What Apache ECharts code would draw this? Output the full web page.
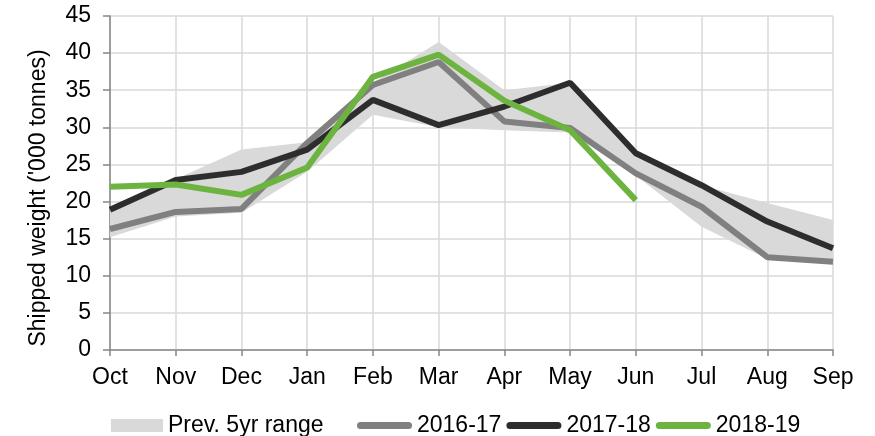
<!DOCTYPE html>
<html>
<head>
<meta charset="utf-8">
<script src="https://cdn.jsdelivr.net/npm/echarts@6/dist/echarts.min.js"></script>
<style>
  html, body { margin: 0; padding: 0; background: #fff; }
  #chart { width: 875px; height: 436px; }
</style>
</head>
<body>
<div id="chart"></div>
<script>
const months = ['Oct', 'Nov', 'Dec', 'Jan', 'Feb', 'Mar', 'Apr', 'May', 'Jun', 'Jul', 'Aug', 'Sep']
const rangeLow = [15.2, 18.0, 18.5, 24.0, 31.7, 30.0, 29.6, 29.3, 23.5, 16.6, 12.3, 11.8]
const rangeHigh = [18.9, 23.0, 27.0, 28.0, 36.0, 41.5, 35.0, 36.0, 26.5, 22.2, 19.8, 17.5]
const s1617 = [16.3, 18.6, 19.0, 27.9, 35.7, 38.8, 30.8, 29.9, 23.8, 19.3, 12.5, 11.9]
const s1718 = [18.9, 22.9, 24.0, 27.0, 33.7, 30.3, 32.8, 36.0, 26.5, 22.2, 17.3, 13.7]
const s1819 = [22.0, 22.3, 20.9, 24.6, 36.8, 39.8, 33.6, 29.6, 20.2]
const yTicks = [0, 5, 10, 15, 20, 25, 30, 35, 40, 45]

const font = 'Arial, "Liberation Sans", sans-serif'
const capsule = 'path://M3.5,0H51.5A3.5,3.5,0,0,1,51.5,7H3.5A3.5,3.5,0,0,1,3.5,0Z'

const lineSeries = (name, data, color) => ({
  name,
  type: 'line',
  data,
  symbol: 'none',
  color,
  lineStyle: { width: 6, color },
  z: 3,
})

const option = {
  animation: false,
  textStyle: { fontFamily: font },
  grid: { left: 110, right: 42, top: 16, bottom: 86 },
  legend: [
    {
      left: 106,
      top: 409,
      itemWidth: 52,
      itemHeight: 13,
      textStyle: { fontSize: 23, color: '#000', fontFamily: font },
      data: [{ name: 'Prev. 5yr range', icon: 'rect', itemStyle: { color: '#d9d9d9' } }],
    },
    {
      left: 352,
      top: 409,
      itemGap: 5,
      itemWidth: 55,
      itemHeight: 7,
      textStyle: { fontSize: 23, color: '#000', fontFamily: font },
      data: [
        { name: '2016-17', icon: capsule },
        { name: '2017-18', icon: capsule },
        { name: '2018-19', icon: capsule },
      ],
    },
  ],
  xAxis: {
    type: 'category',
    data: months,
    boundaryGap: false,
    axisLine: { lineStyle: { color: '#868686', width: 1.5 } },
    axisTick: { show: true, length: 6, inside: false, lineStyle: { color: '#868686', width: 1.5 } },
    axisLabel: { fontSize: 23, color: '#000', margin: 16, fontFamily: font },
    splitLine: { show: true, lineStyle: { color: '#d9d9d9', width: 1.5 } },
  },
  yAxis: {
    type: 'value',
    min: yTicks[0],
    max: yTicks[yTicks.length - 1],
    interval: 5,
    name: "Shipped weight ('000 tonnes)",
    nameLocation: 'middle',
    nameGap: 60,
    nameTextStyle: { fontSize: 23, color: '#000', fontFamily: font, padding: [0, 30, 0, 0] },
    axisLine: { show: true, lineStyle: { color: '#868686', width: 1.5 } },
    axisTick: { show: true, length: 7, lineStyle: { color: '#868686', width: 1.5 } },
    axisLabel: { fontSize: 23, color: '#000', margin: 19, fontFamily: font },
    splitLine: { show: true, lineStyle: { color: '#d9d9d9', width: 1.5 } },
  },
  series: [
    {
      name: 'rangeBase',
      type: 'line',
      stack: 'band',
      data: rangeLow,
      symbol: 'none',
      lineStyle: { opacity: 0 },
      silent: true,
      z: 1,
    },
    {
      name: 'Prev. 5yr range',
      type: 'line',
      stack: 'band',
      data: rangeHigh.map((v, i) => +(v - rangeLow[i]).toFixed(2)),
      symbol: 'none',
      color: '#d9d9d9',
      lineStyle: { opacity: 0 },
      areaStyle: { color: '#d9d9d9', opacity: 1 },
      z: 1,
    },
    lineSeries('2016-17', s1617, '#808080'),
    lineSeries('2017-18', s1718, '#2d2d2d'),
    lineSeries('2018-19', s1819, '#6db33f'),
  ],
}

const chart = echarts.init(document.getElementById('chart'))
chart.setOption(option)
</script>
</body>
</html>
